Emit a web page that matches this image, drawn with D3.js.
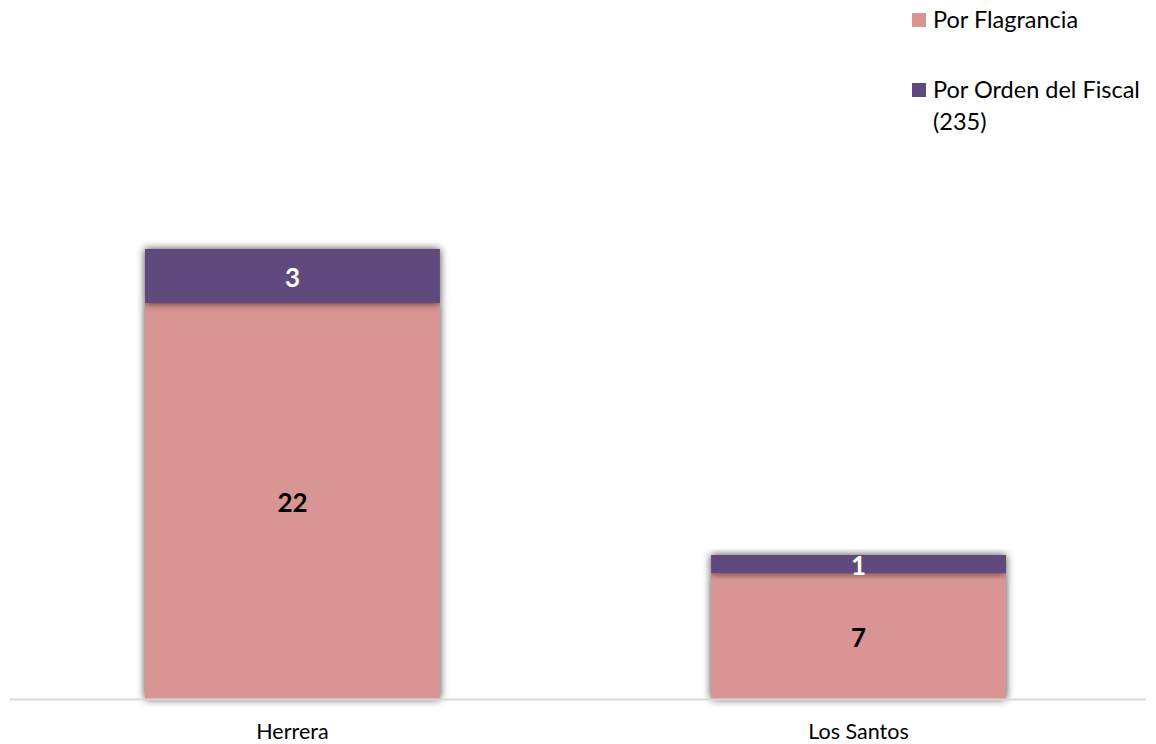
<!DOCTYPE html>
<html><head><meta charset="utf-8">
<script src="https://cdn.jsdelivr.net/npm/d3@7"></script>
<style>body{margin:0;background:#fff}svg{display:block}text{font-family:Lato,"Open Sans",sans-serif}</style>
</head><body>
<svg id="c" width="1156" height="744"></svg>
<script>
const categories = ["Herrera", "Los Santos"];
const flagrancia = [22, 7];
const ordenFiscal = [3, 1];
const colors = ["#d99594", "#604a7b"];
const labelColors = ["#000000", "#ffffff"];

const svg = d3.select("#c");
const defs = svg.append("defs");
const f = defs.append("filter").attr("id","sh").attr("x","-10%").attr("y","-30%").attr("width","120%").attr("height","160%");
f.append("feGaussianBlur").attr("in","SourceAlpha").attr("stdDeviation",4).attr("result","b");
f.append("feComponentTransfer").attr("in","b").attr("result","t").append("feFuncA").attr("type","linear").attr("slope",0.75);
const m = f.append("feMerge"); m.append("feMergeNode").attr("in","t"); m.append("feMergeNode").attr("in","SourceGraphic");

const baseY = 699;
const x = d3.scaleBand().domain(categories).range([10, 1141]).paddingInner(0.479).paddingOuter(0.2385);
const y = d3.scaleLinear().domain([0, 25]).range([baseY, baseY - 25*18]);

const data = categories.map((c,i)=>({cat:c, vals:[flagrancia[i], ordenFiscal[i]]}));
const stack = d3.stack().keys([0,1]).value((d,k)=>d.vals[k])(data);

stack.forEach((layer, k) => {
  svg.append("g").selectAll("rect").data(layer).join("rect")
    .attr("x", d=>x(d.data.cat)).attr("width", x.bandwidth())
    .attr("y", d=>y(d[1])).attr("height", d=>y(d[0])-y(d[1]))
    .attr("fill", colors[k]).attr("filter","url(#sh)");
});
stack.forEach((layer, k) => {
  svg.append("g").selectAll("text").data(layer).join("text")
    .attr("x", d=>x(d.data.cat)+x.bandwidth()/2)
    .attr("y", d=>(y(d[0])+y(d[1]))/2)
    .attr("dy","0.42em").attr("text-anchor","middle")
    .attr("font-size",26).attr("font-weight","bold").attr("fill",labelColors[k])
    .text(d=>d.data.vals[k]);
});

svg.append("line").attr("x1",10).attr("x2",1146).attr("y1",baseY+0.5).attr("y2",baseY+0.5).attr("stroke","#d9d9d9").attr("stroke-width",2);

svg.append("g").selectAll("text").data(categories).join("text")
  .attr("x", d=>x(d)+x.bandwidth()/2).attr("y", 739).attr("text-anchor","middle")
  .attr("font-size",21.5).attr("fill","#000").text(d=>d);

// legend
const leg = svg.append("g");
const legLines = [["Por Flagrancia"], ["Por Orden del Fiscal", "(235)"]];
const legY = [13, 83];
legLines.forEach((lines,i)=>{
  leg.append("rect").attr("x",912).attr("y",legY[i]).attr("width",14).attr("height",14).attr("fill",colors[i]);
  const t = leg.append("text").attr("x",933).attr("y",legY[i]+15).attr("font-size",23.5).attr("fill","#000");
  lines.forEach((l,j)=>t.append("tspan").attr("x",933).attr("dy", j?32:0).text(l));
});
</script>
</body></html>
